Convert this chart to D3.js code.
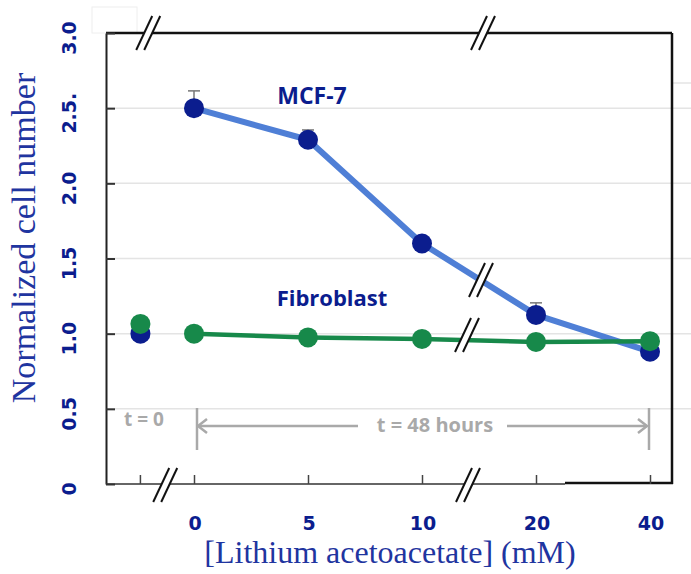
<!DOCTYPE html>
<html>
<head>
<meta charset="utf-8">
<script src="https://cdn.jsdelivr.net/npm/d3@7"></script>
<style>
  body { margin: 0; background: #fff; }
  svg { display: block; }
</style>
</head>
<body>
<svg id="chart" width="691" height="574"></svg>
<script>
// data
var concLabels = ["0", "5", "10", "20", "40"];
var mcfStart = 1.0;      // t = 0 value
var fibStart = 1.065;
var mcfValues = [2.5, 2.29, 1.6, 1.125, 0.88];
var mcfErrors = [0.115, 0.065, 0.035, 0.08, 0];
var fibValues = [1.0, 0.975, 0.965, 0.945, 0.95];
var yTicks = [0, 0.5, 1, 1.5, 2, 2.5, 3];
var yTickLabels = ["0", "0.5", "1.0", "1.5", "2.0", "2.5.", "3.0"];

var navy = '#0b1d8e';
var lineBlue = '#4f7fd6';
var green = '#17894a';
var gray = '#a9a9a9';

var svg = d3.select('#chart');
var plotLeft = 106, plotRight = 672, plotTop = 33, plotBottom = 484;

var x = d3.scalePoint().domain(concLabels).range([194, 650]);
var xStart = x('0') - x.step() * 0.47;
var y = d3.scaleLinear().domain([0, 3]).range([plotBottom, plotTop]);

// faint box left over top-left
svg.append('rect')
  .attr('x', 92).attr('y', 7).attr('width', 45).attr('height', 26)
  .attr('fill', 'none').attr('stroke', '#eeeeee');

// grid lines
svg.append('g')
  .selectAll('line')
  .data(yTicks.filter(d => d > 0 && d < 3))
  .enter().append('line')
  .attr('x1', plotLeft).attr('x2', 691)
  .attr('y1', d => y(d)).attr('y2', d => y(d))
  .attr('stroke', '#e4e4e4').attr('stroke-width', 1.5);
svg.append('line')
  .attr('x1', plotRight + 1).attr('x2', 691).attr('y1', 83).attr('y2', 83)
  .attr('stroke', '#e4e4e4').attr('stroke-width', 1.5);

// frame
svg.append('line').attr('x1', plotLeft).attr('x2', plotRight).attr('y1', plotTop).attr('y2', plotTop)
  .attr('stroke', '#111').attr('stroke-width', 2.5);
svg.append('line').attr('x1', plotRight).attr('x2', plotRight).attr('y1', plotTop).attr('y2', plotBottom)
  .attr('stroke', '#111').attr('stroke-width', 2.5);
svg.append('line').attr('x1', 565).attr('x2', plotRight + 1).attr('y1', plotBottom - 1).attr('y2', plotBottom - 1)
  .attr('stroke', '#111').attr('stroke-width', 2.5);

// y axis
var yAxis = svg.append('g')
  .attr('transform', `translate(${plotLeft},0)`)
  .call(d3.axisLeft(y).tickValues(yTicks).tickSize(-9).tickSizeOuter(0).tickFormat(''));
yAxis.select('.domain').attr('stroke', '#222').attr('stroke-width', 2);
yAxis.selectAll('.tick line').attr('stroke', '#333').attr('stroke-width', 2);

svg.append('g')
  .selectAll('text')
  .data(yTicks)
  .enter().append('text')
  .attr('transform', (d, i) => `translate(76,${y(d) + 5}) rotate(-90)`)
  .attr('text-anchor', 'middle')
  .style('font-family', 'DejaVu Sans')
  .style('font-weight', 'bold')
  .style('font-size', '19px')
  .attr('fill', navy)
  .text((d, i) => yTickLabels[i]);

// x axis
var xAxis = svg.append('g')
  .attr('transform', `translate(0,${plotBottom})`)
  .call(d3.axisBottom(x).tickSize(-9).tickSizeOuter(0).tickFormat(''));
xAxis.select('.domain').attr('d', `M${plotLeft},0H565`).attr('stroke', '#333').attr('stroke-width', 1.5);
xAxis.selectAll('.tick line').attr('stroke', '#444').attr('stroke-width', 1.5);
xAxis.append('line')
  .attr('x1', xStart).attr('x2', xStart).attr('y1', 0).attr('y2', -9)
  .attr('stroke', '#444').attr('stroke-width', 1.5);

svg.append('g')
  .selectAll('text')
  .data(concLabels)
  .enter().append('text')
  .attr('x', d => x(d) + 1)
  .attr('y', 530)
  .attr('text-anchor', 'middle')
  .style('font-family', 'DejaVu Sans')
  .style('font-weight', 'bold')
  .style('font-size', '19px')
  .attr('fill', navy)
  .text(d => d);

// axis titles
svg.append('text')
  .attr('transform', 'translate(35,238) rotate(-90)')
  .attr('text-anchor', 'middle')
  .style('font-family', 'Liberation Serif')
  .style('font-size', '34px')
  .attr('fill', '#1f35a0')
  .text('Normalized cell number');

svg.append('text')
  .attr('x', 390).attr('y', 563)
  .attr('text-anchor', 'middle')
  .style('font-family', 'Liberation Serif')
  .style('font-size', '32px')
  .attr('fill', '#1f35a0')
  .text('[Lithium acetoacetate] (mM)');

// time annotation
var ann = svg.append('g').attr('stroke', gray).attr('fill', 'none').attr('stroke-width', 2.5);
var tY = 426;
ann.append('line').attr('x1', x('0') + 3).attr('x2', x('0') + 3).attr('y1', 408).attr('y2', 450);
ann.append('line').attr('x1', x('40') - 1).attr('x2', x('40') - 1).attr('y1', 408).attr('y2', 450);
ann.append('line').attr('x1', x('0') + 4).attr('x2', 358).attr('y1', tY).attr('y2', tY);
ann.append('line').attr('x1', 507).attr('x2', x('40') - 3).attr('y1', tY).attr('y2', tY);
ann.append('path').attr('d', `M${x('0') + 13},${tY - 7}L${x('0') + 4},${tY}L${x('0') + 13},${tY + 7}`);
ann.append('path').attr('d', `M${x('40') - 12},${tY - 7}L${x('40') - 3},${tY}L${x('40') - 12},${tY + 7}`);

svg.append('text')
  .attr('x', 144).attr('y', 426)
  .attr('text-anchor', 'middle')
  .style('font-family', 'Open Sans')
  .style('font-weight', 'bold')
  .style('font-size', '19px')
  .attr('fill', gray)
  .text('t = 0');
svg.append('text')
  .attr('x', 435).attr('y', 432)
  .attr('text-anchor', 'middle')
  .style('font-family', 'Open Sans')
  .style('font-weight', 'bold')
  .style('font-size', '20px')
  .attr('fill', gray)
  .text('t = 48 hours');

// error bars (MCF-7, upper only)
var eb = svg.append('g').attr('stroke', '#777').attr('stroke-width', 1.5);
concLabels.forEach(function(c, i) {
  if (!mcfErrors[i]) return;
  var yTop = y(mcfValues[i] + mcfErrors[i]);
  eb.append('line').attr('x1', x(c)).attr('x2', x(c)).attr('y1', y(mcfValues[i])).attr('y2', yTop);
  eb.append('line').attr('x1', x(c) - 6).attr('x2', x(c) + 6).attr('y1', yTop).attr('y2', yTop);
});

var line = d3.line().x(d => x(d.c)).y(d => y(d.v));
var mcfData = concLabels.map((c, i) => ({ c: c, v: mcfValues[i] }));
var fibData = concLabels.map((c, i) => ({ c: c, v: fibValues[i] }));

// MCF-7
svg.append('path').datum(mcfData)
  .attr('d', line).attr('fill', 'none')
  .attr('stroke', lineBlue).attr('stroke-width', 6).attr('stroke-linejoin', 'round');
svg.append('circle').attr('cx', xStart).attr('cy', y(mcfStart)).attr('r', 10).attr('fill', navy);
svg.append('g').selectAll('circle')
  .data(mcfData).enter().append('circle')
  .attr('cx', d => x(d.c)).attr('cy', d => y(d.v)).attr('r', 10).attr('fill', navy);

// Fibroblast
svg.append('path').datum(fibData)
  .attr('d', line).attr('fill', 'none')
  .attr('stroke', green).attr('stroke-width', 4.5);
svg.append('circle').attr('cx', xStart).attr('cy', y(fibStart)).attr('r', 10).attr('fill', green);
svg.append('g').selectAll('circle')
  .data(fibData).enter().append('circle')
  .attr('cx', d => x(d.c)).attr('cy', d => y(d.v)).attr('r', 10).attr('fill', green);

// series labels
svg.append('text').attr('x', 312).attr('y', 104)
  .attr('text-anchor', 'middle')
  .style('font-family', 'Open Sans').style('font-weight', 'bold').style('font-size', '23px')
  .attr('fill', navy).text('MCF-7');
svg.append('text').attr('x', 332).attr('y', 306)
  .attr('text-anchor', 'middle')
  .style('font-family', 'Open Sans').style('font-weight', 'bold').style('font-size', '22px')
  .attr('fill', navy).text('Fibroblast');

// axis / line break marks "//"
function breakMark(cx, cy) {
  var g = svg.append('g');
  g.append('polygon')
    .attr('points', [[cx - 12, cy + 16], [cx + 4, cy - 16], [cx + 12, cy - 16], [cx - 4, cy + 16]].join(' '))
    .attr('fill', '#fff');
  [-4, 4].forEach(function(o) {
    g.append('line')
      .attr('x1', cx + o - 8).attr('y1', cy + 17)
      .attr('x2', cx + o + 8).attr('y2', cy - 17)
      .attr('stroke', '#111').attr('stroke-width', 2);
  });
}
var midLeft = (xStart + x('0')) / 2;
var midRight = (x('10') + x('20')) / 2;
breakMark(midLeft - 19, plotTop);
breakMark(midLeft - 2, plotBottom + 1);
breakMark(midRight + 4, plotTop);
breakMark(midRight - 11, plotBottom + 1);
breakMark(midRight + 2, 280);
breakMark(midRight - 12, 335);
</script>
</body>
</html>
